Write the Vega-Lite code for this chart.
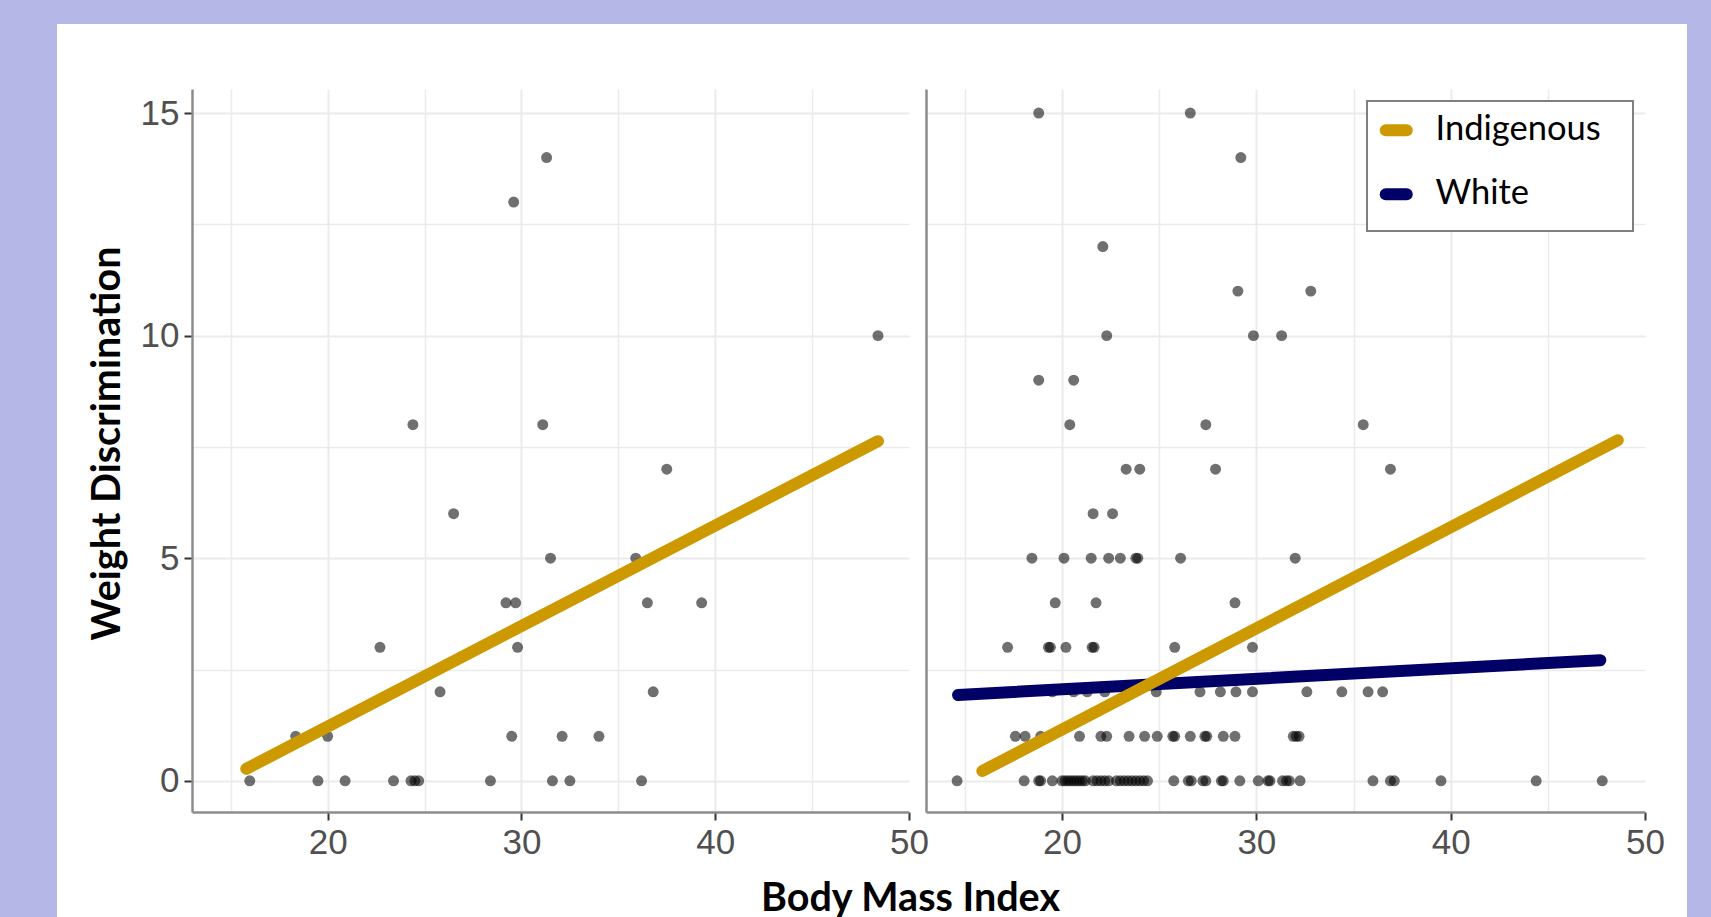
{
  "$schema": "https://vega.github.io/schema/vega-lite/v6.json",
  "background": "#b5b7e7",
  "padding": {"left": 57, "top": 24, "right": 24, "bottom": 0},
  "bounds": "flush",
  "spacing": 0,
  "config": {
    "view": {"fill": "white", "stroke": null},
    "axis": {
      "labelFont": "Liberation Sans",
      "labelFontSize": 35,
      "labelColor": "#505050",
      "labelFlush": false,
      "domainColor": "#8c8c8c",
      "domainWidth": 2.5,
      "tickColor": "#333333",
      "tickWidth": 2,
      "tickSize": 8,
      "labelPadding": 5,
      "gridColor": "#ebebeb",
      "titleFont": "Lato",
      "titleFontWeight": "bold",
      "titleFontSize": 39.5,
      "titleColor": "#000000"
    }
  },
  "datasets": {
    "L": [
      {"bmi": 31.3, "wd": 14}, {"bmi": 29.6, "wd": 13}, {"bmi": 48.4, "wd": 10},
      {"bmi": 24.4, "wd": 8}, {"bmi": 31.1, "wd": 8}, {"bmi": 37.5, "wd": 7},
      {"bmi": 26.5, "wd": 6}, {"bmi": 31.5, "wd": 5}, {"bmi": 35.9, "wd": 5},
      {"bmi": 29.2, "wd": 4}, {"bmi": 29.7, "wd": 4}, {"bmi": 36.5, "wd": 4}, {"bmi": 39.3, "wd": 4},
      {"bmi": 22.7, "wd": 3}, {"bmi": 29.8, "wd": 3},
      {"bmi": 25.8, "wd": 2}, {"bmi": 36.8, "wd": 2},
      {"bmi": 18.35, "wd": 1}, {"bmi": 20.0, "wd": 1}, {"bmi": 29.5, "wd": 1}, {"bmi": 32.1, "wd": 1}, {"bmi": 34.0, "wd": 1},
      {"bmi": 15.98, "wd": 0}, {"bmi": 19.5, "wd": 0}, {"bmi": 20.9, "wd": 0}, {"bmi": 23.4, "wd": 0},
      {"bmi": 24.3, "wd": 0}, {"bmi": 24.5, "wd": 0}, {"bmi": 24.7, "wd": 0}, {"bmi": 28.4, "wd": 0},
      {"bmi": 31.6, "wd": 0}, {"bmi": 32.5, "wd": 0}, {"bmi": 36.2, "wd": 0}
    ],
    "R": [
      {"bmi": 18.8, "wd": 15}, {"bmi": 26.6, "wd": 15},
      {"bmi": 29.2, "wd": 14},
      {"bmi": 22.1, "wd": 12},
      {"bmi": 29.05, "wd": 11}, {"bmi": 32.8, "wd": 11},
      {"bmi": 22.3, "wd": 10}, {"bmi": 29.85, "wd": 10}, {"bmi": 31.3, "wd": 10},
      {"bmi": 18.8, "wd": 9}, {"bmi": 20.6, "wd": 9},
      {"bmi": 20.4, "wd": 8}, {"bmi": 27.4, "wd": 8}, {"bmi": 35.5, "wd": 8},
      {"bmi": 23.3, "wd": 7}, {"bmi": 24.0, "wd": 7}, {"bmi": 27.9, "wd": 7}, {"bmi": 36.9, "wd": 7},
      {"bmi": 21.6, "wd": 6}, {"bmi": 22.6, "wd": 6},
      {"bmi": 18.45, "wd": 5}, {"bmi": 20.1, "wd": 5}, {"bmi": 21.5, "wd": 5}, {"bmi": 22.4, "wd": 5}, {"bmi": 23.0, "wd": 5},
      {"bmi": 23.8, "wd": 5}, {"bmi": 23.9, "wd": 5}, {"bmi": 26.1, "wd": 5}, {"bmi": 32.0, "wd": 5},
      {"bmi": 19.65, "wd": 4}, {"bmi": 21.75, "wd": 4}, {"bmi": 28.9, "wd": 4},
      {"bmi": 17.2, "wd": 3}, {"bmi": 19.3, "wd": 3}, {"bmi": 19.4, "wd": 3}, {"bmi": 20.2, "wd": 3},
      {"bmi": 21.55, "wd": 3}, {"bmi": 21.65, "wd": 3}, {"bmi": 25.8, "wd": 3}, {"bmi": 29.8, "wd": 3},
      {"bmi": 19.5, "wd": 2}, {"bmi": 20.6, "wd": 2}, {"bmi": 21.3, "wd": 2}, {"bmi": 22.2, "wd": 2}, {"bmi": 24.85, "wd": 2},
      {"bmi": 27.1, "wd": 2}, {"bmi": 28.15, "wd": 2}, {"bmi": 28.95, "wd": 2}, {"bmi": 29.8, "wd": 2}, {"bmi": 32.6, "wd": 2},
      {"bmi": 34.4, "wd": 2}, {"bmi": 35.75, "wd": 2}, {"bmi": 36.5, "wd": 2},
      {"bmi": 17.6, "wd": 1}, {"bmi": 18.1, "wd": 1}, {"bmi": 18.9, "wd": 1}, {"bmi": 20.9, "wd": 1}, {"bmi": 22.0, "wd": 1},
      {"bmi": 22.3, "wd": 1}, {"bmi": 23.45, "wd": 1}, {"bmi": 24.25, "wd": 1}, {"bmi": 24.9, "wd": 1}, {"bmi": 25.7, "wd": 1},
      {"bmi": 25.8, "wd": 1}, {"bmi": 26.6, "wd": 1}, {"bmi": 27.35, "wd": 1}, {"bmi": 27.45, "wd": 1}, {"bmi": 28.3, "wd": 1},
      {"bmi": 28.9, "wd": 1}, {"bmi": 31.9, "wd": 1}, {"bmi": 32.05, "wd": 1}, {"bmi": 32.2, "wd": 1},
      {"bmi": 14.6, "wd": 0}, {"bmi": 18.05, "wd": 0}, {"bmi": 18.8, "wd": 0}, {"bmi": 18.9, "wd": 0}, {"bmi": 19.5, "wd": 0},
      {"bmi": 20.0, "wd": 0}, {"bmi": 20.15, "wd": 0}, {"bmi": 20.3, "wd": 0}, {"bmi": 20.45, "wd": 0}, {"bmi": 20.6, "wd": 0},
      {"bmi": 20.75, "wd": 0}, {"bmi": 20.9, "wd": 0}, {"bmi": 21.05, "wd": 0}, {"bmi": 21.2, "wd": 0}, {"bmi": 21.6, "wd": 0},
      {"bmi": 21.8, "wd": 0}, {"bmi": 22.0, "wd": 0}, {"bmi": 22.2, "wd": 0}, {"bmi": 22.4, "wd": 0}, {"bmi": 22.8, "wd": 0},
      {"bmi": 23.0, "wd": 0}, {"bmi": 23.2, "wd": 0}, {"bmi": 23.4, "wd": 0}, {"bmi": 23.6, "wd": 0}, {"bmi": 23.8, "wd": 0},
      {"bmi": 24.0, "wd": 0}, {"bmi": 24.2, "wd": 0}, {"bmi": 24.4, "wd": 0}, {"bmi": 25.75, "wd": 0}, {"bmi": 26.5, "wd": 0},
      {"bmi": 26.65, "wd": 0}, {"bmi": 27.25, "wd": 0}, {"bmi": 27.4, "wd": 0}, {"bmi": 28.2, "wd": 0}, {"bmi": 28.3, "wd": 0},
      {"bmi": 29.15, "wd": 0}, {"bmi": 30.1, "wd": 0}, {"bmi": 30.6, "wd": 0}, {"bmi": 30.7, "wd": 0}, {"bmi": 31.35, "wd": 0},
      {"bmi": 31.55, "wd": 0}, {"bmi": 31.7, "wd": 0}, {"bmi": 32.25, "wd": 0}, {"bmi": 36.0, "wd": 0}, {"bmi": 36.9, "wd": 0},
      {"bmi": 37.1, "wd": 0}, {"bmi": 39.5, "wd": 0}, {"bmi": 44.4, "wd": 0}, {"bmi": 47.8, "wd": 0}
    ],
    "LL": [
      {"bmi": 15.8, "wd": 0.27, "group": "Indigenous"},
      {"bmi": 48.4, "wd": 7.63, "group": "Indigenous"}
    ],
    "RL": [
      {"bmi": 14.65, "wd": 1.93, "group": "White"},
      {"bmi": 47.7, "wd": 2.71, "group": "White"},
      {"bmi": 15.9, "wd": 0.22, "group": "Indigenous"},
      {"bmi": 48.6, "wd": 7.65, "group": "Indigenous"}
    ]
  },
  "hconcat": [
    {
      "width": 880,
      "height": 893,
      "resolve": {"axis": {"x": "independent"}},
      "layer": [
        {
          "data": {"name": "L"},
          "mark": {"type": "point", "filled": true, "size": 120, "color": "#000000", "opacity": 0.56},
          "encoding": {
            "x": {
              "field": "bmi", "type": "quantitative",
              "scale": {"domain": [13, 50], "range": [135, 852], "nice": false, "zero": false},
              "axis": {
                "orient": "bottom", "offset": -105, "title": null, "grid": false,
                "values": [20, 30, 40, 50]
              }
            },
            "y": {
              "field": "wd", "type": "quantitative",
              "scale": {"domain": [-0.7, 15.54], "range": [788, 65], "nice": false, "zero": false},
              "axis": {
                "orient": "left", "offset": -135,
                "values": [0, 2.5, 5, 7.5, 10, 12.5, 15],
                "labelExpr": "datum.value % 5 == 0 ? format(datum.value, 'd') : ''",
                "tickOpacity": {"condition": {"test": "datum.value % 5 == 0", "value": 1}, "value": 0},
                "gridWidth": {"condition": {"test": "datum.value % 5 == 0", "value": 2}, "value": 1.5},
                "title": "Weight Discrimination",
                "titleX": -73, "titleY": 419, "titleAngle": -90,
                "titleAlign": "center", "titleBaseline": "alphabetic"
              }
            }
          }
        },
        {
          "data": {"name": "LL"},
          "mark": {"type": "line", "color": "#cc9900", "strokeWidth": 12, "strokeCap": "round"},
          "encoding": {
            "x": {
              "field": "bmi", "type": "quantitative",
              "axis": {
                "orient": "top", "grid": true, "labels": false, "ticks": false, "domain": false, "title": null,
                "values": [15, 20, 25, 30, 35, 40, 45],
                "gridWidth": {"condition": {"test": "datum.value % 10 == 0", "value": 2}, "value": 1.5}
              }
            },
            "y": {"field": "wd", "type": "quantitative"}
          }
        }
      ]
    },
    {
      "width": 750,
      "height": 893,
      "resolve": {"axis": {"x": "independent"}},
      "layer": [
        {
          "data": {"name": "R"},
          "mark": {"type": "point", "filled": true, "size": 120, "color": "#000000", "opacity": 0.56},
          "encoding": {
            "x": {
              "field": "bmi", "type": "quantitative",
              "scale": {"domain": [13, 50], "range": [-11, 708], "nice": false, "zero": false},
              "axis": {
                "orient": "bottom", "offset": -105, "grid": false,
                "values": [20, 30, 40, 50],
                "title": "Body Mass Index",
                "titleX": -27, "titleY": 98, "titleAlign": "center", "titleBaseline": "alphabetic"
              }
            },
            "y": {
              "field": "wd", "type": "quantitative",
              "scale": {"domain": [-0.7, 15.54], "range": [788, 65], "nice": false, "zero": false},
              "axis": {
                "orient": "left", "offset": 11, "title": null,
                "values": [0, 2.5, 5, 7.5, 10, 12.5, 15],
                "labels": false, "ticks": false,
                "gridWidth": {"condition": {"test": "datum.value % 5 == 0", "value": 2}, "value": 1.5}
              }
            }
          }
        },
        {
          "data": {"name": "RL"},
          "mark": {"type": "line", "strokeWidth": 12, "strokeCap": "round"},
          "encoding": {
            "x": {
              "field": "bmi", "type": "quantitative",
              "axis": {
                "orient": "top", "grid": true, "labels": false, "ticks": false, "domain": false, "title": null,
                "values": [15, 20, 25, 30, 35, 40, 45],
                "gridWidth": {"condition": {"test": "datum.value % 10 == 0", "value": 2}, "value": 1.5}
              }
            },
            "y": {"field": "wd", "type": "quantitative"},
            "color": {
              "field": "group", "type": "nominal",
              "scale": {"domain": ["Indigenous", "White"], "range": ["#cc9900", "#000066"]},
              "legend": {
                "orient": "none", "legendX": 430, "legendY": 77,
                "title": "_", "titleOrient": "right", "titleFontSize": 19, "titlePadding": 9, "titleOpacity": 0,
                "symbolType": "stroke", "symbolStrokeWidth": 12, "symbolSize": 441,
                "labelFont": "Lato", "labelFontSize": 34.5, "labelColor": "#000000", "labelLimit": 400,
                "labelOffset": 22, "rowPadding": 15, "padding": 12,
                "fillColor": "#ffffff", "strokeColor": "#7f7f7f",
                "encode": {
                  "symbols": {"update": {"strokeCap": {"value": "round"}}},
                  "legend": {"update": {"strokeWidth": {"value": 2}}}
                }
              }
            }
          }
        }
      ]
    }
  ],
  "resolve": {
    "scale": {"x": "independent", "y": "independent", "color": "independent"},
    "legend": {"color": "independent"}
  }
}
